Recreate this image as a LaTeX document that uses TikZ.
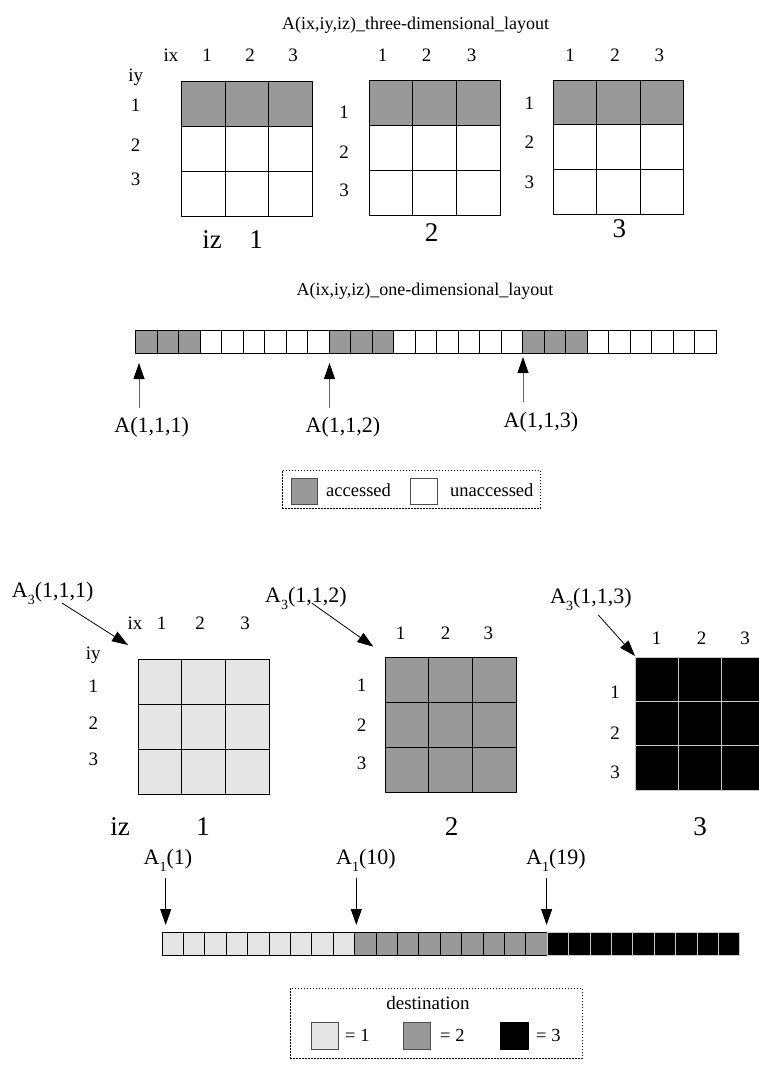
\documentclass[tikz,border=0pt]{standalone}
\usepackage{fontspec}
\setmainfont{Liberation Serif}
\usetikzlibrary{arrows.meta}
\definecolor{acc}{HTML}{999999}
\definecolor{lgr}{HTML}{E5E5E5}
\definecolor{sep}{HTML}{C8C8C8}
\newcommand\mysub[1]{\raisebox{-0.32em}{\fontsize{14}{14}\selectfont #1}}
\newcommand\mygrid[7]{%
  \foreach \i in {0,1,2}{\foreach \j in {0,1,2}{%
    \ifnum\j=0 \def\fc{#5}\else\def\fc{#6}\fi
    \filldraw[fill=\fc, draw=#7, line width=0.8pt] ({#1+\i*#3},{#2+\j*#4}) rectangle ++(#3,#4);
  }}}
\tikzset{
  num/.style={font=\fontsize{19}{19}\selectfont, inner sep=0, anchor=base},
  big/.style={font=\fontsize{27}{27}\selectfont, inner sep=0, anchor=base},
  lab/.style={font=\fontsize{22}{22}\selectfont, inner sep=0, anchor=base},
  labw/.style={font=\fontsize{22}{22}\selectfont, inner sep=0, anchor=base west},
  ttl/.style={font=\fontsize{18}{18}\selectfont, inner sep=0},
  leg/.style={font=\fontsize{18.5}{18.5}\selectfont, inner sep=0, anchor=base west},
  legbox/.style={draw, line width=0.7pt, dash pattern=on 1.6pt off 1.4pt},
  cellbox/.style={line width=0.8pt},
  uparr/.style={draw=gray!80!black, line width=0.8pt, -{Triangle[length=16pt,width=11pt,color=black]}},
  dnarr/.style={draw=black, line width=0.8pt, -{Triangle[length=16pt,width=11pt]}},
}
\begin{document}
\begin{tikzpicture}[x=1pt,y=-1pt]
\useasboundingbox (0,0) rectangle (759,1068);
\clip (0,0) rectangle (759,1068);

% ---------------- top: three-dimensional layout ----------------
\node[ttl, anchor=base west] (t3d) at (282,29) {A(ix,iy,iz)\_three-dimensional\_layout};

\mygrid{181.7}{81.7}{43.53}{45}{acc}{white}{black}
\mygrid{369.3}{80.7}{43.57}{45}{acc}{white}{black}
\mygrid{553.3}{80}{43.33}{44.67}{acc}{white}{black}

% grid 1 labels
\node[num] (ix1) at (171,61) {ix};
\node[num] (c11) at (207,61) {1};
\node[num] (c12) at (250,61) {2};
\node[num] (c13) at (293,61) {3};
\node[num] (iy1) at (135.7,81) {iy};
\node[num] (r11) at (135.7,111.8) {1};
\node[num] (r12) at (135.7,151.1) {2};
\node[num] (r13) at (135.7,185) {3};
\node[big] (iz1) at (212,248) {iz};
\node[big] (z1) at (256,248) {1};
% grid 2 labels
\node[num] (c21) at (382.7,61) {1};
\node[num] (c22) at (426.7,61) {2};
\node[num] (c23) at (471.7,61) {3};
\node[num] (r21) at (344,118) {1};
\node[num] (r22) at (344,158) {2};
\node[num] (r23) at (344,196.5) {3};
\node[big] (z2) at (431.7,241) {2};
% grid 3 labels
\node[num] (c31) at (570,61) {1};
\node[num] (c32) at (615,61) {2};
\node[num] (c33) at (659.3,61) {3};
\node[num] (r31) at (529.3,109.5) {1};
\node[num] (r32) at (529.3,148) {2};
\node[num] (r33) at (529.3,188) {3};
\node[big] (z3) at (619.3,237.5) {3};

% ---------------- top: one-dimensional layout ----------------
\node[ttl, anchor=base] (t1d) at (425,295) {A(ix,iy,iz)\_one-dimensional\_layout};
\foreach \i in {0,...,26}{
  \pgfmathtruncatemacro\g{mod(\i,9)}
  \ifnum\g<3 \def\fc{acc}\else\def\fc{white}\fi
  \filldraw[cellbox, fill=\fc] ({135.7+\i*21.5},330) rectangle ++(21.5,23.3);
}
\coordinate (u1s) at (139,408);   \coordinate (u1e) at (139,363);
\coordinate (u2s) at (329.5,408); \coordinate (u2e) at (329.5,363);
\coordinate (u3s) at (523,402);   \coordinate (u3e) at (523,357);
\draw[uparr] (u1s) -- (u1e);
\draw[uparr] (u2s) -- (u2e);
\draw[uparr] (u3s) -- (u3e);
\node[lab] (a111) at (151.7,432.5) {A(1,1,1)};
\node[lab] (a112) at (343,432.5) {A(1,1,2)};
\node[lab] (a113) at (541,427.5) {A(1,1,3)};

% legend 1
\node[legbox, minimum width=258pt, minimum height=38pt, anchor=north west] (leg1) at (282,470) {};
\filldraw[line width=0.8pt, fill=acc, draw=gray!60!black] (291,478) rectangle (317,504);
\node[leg] (lacc) at (326,496) {accessed};
\filldraw[line width=0.8pt, fill=white, draw=gray!60!black] (410,478) rectangle (437,504);
\node[leg] (lun) at (450,496) {unaccessed};

% ---------------- bottom: destination ----------------
\mygrid{138.3}{659.3}{43.57}{45}{lgr}{lgr}{black}
\mygrid{385}{657.3}{43.67}{45}{acc}{acc}{black}
\mygrid{635}{657.3}{43}{44.2}{black}{black}{sep}

\node[labw] (b111) at (11.7,597) {A\mysub{3}(1,1,1)};
\node[labw] (b112) at (265,602) {A\mysub{3}(1,1,2)};
\node[labw] (b113) at (550,603.5) {A\mysub{3}(1,1,3)};
\coordinate (d1s) at (62,603);    \coordinate (d1e) at (128,645);
\coordinate (d2s) at (311.7,603); \coordinate (d2e) at (373.3,646.7);
\coordinate (d3s) at (598.3,615); \coordinate (d3e) at (635,656);
\draw[dnarr] (d1s) -- (d1e);
\draw[dnarr] (d2s) -- (d2e);
\draw[dnarr] (d3s) -- (d3e);

% bottom grid 1 labels
\node[num] (bix) at (135,629.5) {ix};
\node[num] (bc11) at (161.7,629.5) {1};
\node[num] (bc12) at (200,629.5) {2};
\node[num] (bc13) at (245,629.5) {3};
\node[num] (biy) at (93.3,659) {iy};
\node[num] (br11) at (93.3,692) {1};
\node[num] (br12) at (93.3,729.5) {2};
\node[num] (br13) at (93.3,765.5) {3};
\node[big] (biz) at (120,835.5) {iz};
\node[big] (bz1) at (203,835.5) {1};
% bottom grid 2 labels
\node[num] (bc21) at (400.7,639.5) {1};
\node[num] (bc22) at (445.7,639.5) {2};
\node[num] (bc23) at (488.3,639.5) {3};
\node[num] (br21) at (361.7,691.5) {1};
\node[num] (br22) at (361.7,731.5) {2};
\node[num] (br23) at (361.7,769.8) {3};
\node[big] (bz2) at (451.7,835.5) {2};
% bottom grid 3 labels
\node[num] (bc31) at (656.7,644.5) {1};
\node[num] (bc32) at (701.7,644.5) {2};
\node[num] (bc33) at (745,644.5) {3};
\node[num] (br31) at (615,698) {1};
\node[num] (br32) at (615,739.5) {2};
\node[num] (br33) at (615,778) {3};
\node[big] (bz3) at (700,835.5) {3};

% bottom bar
\foreach \i in {0,...,26}{
  \ifnum\i<9 \def\fc{lgr}\def\dc{black}\else
    \ifnum\i<18 \def\fc{acc}\def\dc{black}\else\def\fc{black}\def\dc{sep}\fi\fi
  \filldraw[cellbox, fill=\fc, draw=\dc] ({162+\i*21.4},932) rectangle ++(21.4,23);
}
\node[lab] (l1) at (168,864) {A\mysub{1}(1)};
\node[lab] (l10) at (366,864) {A\mysub{1}(10)};
\node[lab] (l19) at (556,864) {A\mysub{1}(19)};
\coordinate (e1s) at (165.7,878);  \coordinate (e1e) at (165.7,925);
\coordinate (e2s) at (356.3,878);  \coordinate (e2e) at (356.3,925);
\coordinate (e3s) at (546.6,878);  \coordinate (e3e) at (546.6,925);
\draw[dnarr] (e1s) -- (e1e);
\draw[dnarr] (e2s) -- (e2e);
\draw[dnarr] (e3s) -- (e3e);

% legend 2
\node[legbox, minimum width=292pt, minimum height=70pt, anchor=north west] (leg2) at (290,988) {};
\node[ttl, anchor=base] (dest) at (428,1009.5) {\fontsize{19}{19}\selectfont destination};
\filldraw[line width=0.8pt, fill=lgr, draw=gray!60!black] (311,1022) rectangle (338,1049);
\node[leg] (e1) at (345,1041.5) {= 1};
\filldraw[line width=0.8pt, fill=acc, draw=gray!60!black] (403,1022) rectangle (430,1049);
\node[leg] (e2) at (440,1041.5) {= 2};
\filldraw[line width=0.8pt, fill=black, draw=black] (500,1022) rectangle (528,1049);
\node[leg] (e3) at (536,1041.5) {= 3};
\end{tikzpicture}
\end{document}
